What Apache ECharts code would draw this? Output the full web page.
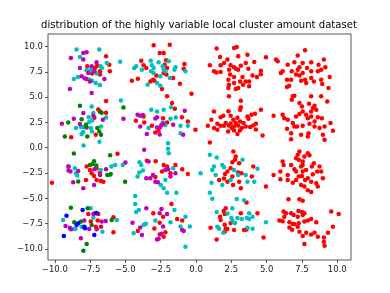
<!DOCTYPE html>
<html>
<head>
<meta charset="utf-8">
<script src="https://cdn.jsdelivr.net/npm/echarts@6/dist/echarts.min.js"></script>
<style>html,body{margin:0;padding:0;background:#fff}#c{width:390px;height:293px}</style>
</head>
<body>
<div id="c"></div>
<script>
const titleText = 'distribution of the highly variable local cluster amount dataset';
const xTicks = [-10, -7.5, -5, -2.5, 0, 2.5, 5, 7.5, 10];
const yTicks = [-10, -7.5, -5, -2.5, 0, 2.5, 5, 7.5, 10];

const redPts = [
  [-6.37,9.03],[-6.14,8.2],[-7.7,8.04],[-7.16,7.87],[-6.8,7.54],[-6.1,7.54],[-7.36,7.32],[-6.8,7.22],[-7.75,6.79],[-7.0,8.1],
  [-3.0,10.12],[-1.86,10.18],[-2.57,9.36],[-2.29,9.36],[-3.88,8.6],[-2.12,8.63],[-0.82,8.27],[-3.71,8.14],[-2.22,8.2],[-2.05,7.87],[-3.52,7.87],[-0.87,7.81],[-2.29,7.38],[-2.1,7.22],[-2.81,7.12],[-3.05,6.72],[-3.24,6.55],[-2.95,6.62],[-4.54,6.62],[-4.12,6.82],[-1.62,6.89],[-1.14,6.32],[-2.41,5.8],[-0.32,5.33],
  [1.46,9.79],[2.69,9.85],[2.88,9.95],[1.70,8.96],[3.64,9.19],[2.98,9.03],[2.22,8.7],[4.95,8.93],[0.98,8.14],[1.98,8.37],[1.74,8.14],[2.45,8.14],[2.69,7.94],[2.83,7.81],[4.12,8.47],[3.52,8.37],[3.17,8.1],[1.27,7.54],[1.44,7.44],[1.74,7.48],[2.34,7.71],[2.98,7.71],[3.7,7.81],[4.59,7.61],[2.41,7.22],[2.69,6.99],[4.0,7.12],[3.29,6.99],[2.29,6.72],[3.52,6.55],[3.76,6.55],[3.12,6.55],[4.31,6.99],[4.59,7.25],[2.69,6.39],[2.33,6.22],[2.29,5.9],[2.98,5.9],[2.81,5.8],[3.76,6.06],[3.33,6.22],[2.33,5.07],
  [7.72,9.62],[7.2,9.1],[5.66,8.7],[5.78,8.53],[9.05,8.7],[6.49,8.2],[6.96,8.44],[7.55,8.37],[8.15,8.44],[8.67,8.2],[7.32,7.94],[7.2,7.71],[7.86,7.87],[6.13,7.54],[6.0,7.38],[6.78,7.54],[9.15,7.94],[8.15,7.54],[8.62,7.54],[8.86,7.71],[7.08,7.22],[7.32,7.12],[7.55,7.38],[9.46,6.99],[6.44,6.72],[6.73,6.72],[7.44,6.62],[7.72,6.72],[8.15,6.89],[8.34,6.55],[8.86,6.72],[8.93,6.29],[6.44,6.0],[6.6,6.12],[7.8,6.39],[9.38,5.9],
  [-6.37,4.62],[-6.92,3.78],[-6.8,3.58],[-6.37,3.45],[-7.1,1.28],[-8.84,1.03],[-7.2,2.95],
  [-2.05,5.07],[-1.7,4.41],[-1.5,3.85],[-2.33,2.92],[-3.71,3.09],[-3.67,2.49],[-4.26,2.66],[-3.12,2.17],[-2.45,2.25],[-2.65,1.71],[-2.05,2.5],[-0.58,2.59],[-0.04,1.77],[-2.88,1.51],[-1.0,3.0],
  [3.17,4.64],[3.17,4.0],[4.59,3.75],[2.29,3.6],[3.12,3.75],[1.27,3.58],[1.74,3.02],[1.93,3.15],[1.08,2.76],[2.45,3.15],[4.17,3.35],[2.93,2.95],[3.64,3.09],[3.93,3.25],[2.64,2.76],[2.81,2.43],[3.71,2.86],[3.12,2.6],[3.36,2.43],[2.1,2.43],[2.33,2.2],[2.45,2.4],[2.69,2.1],[0.84,2.17],[1.51,2.36],[1.74,2.17],[1.98,2.17],[2.98,2.2],[3.52,2.1],[3.83,2.04],[4.05,2.2],[4.24,2.36],[1.27,1.94],[1.51,1.77],[2.27,1.61],[2.52,1.94],[3.24,1.94],[2.69,1.71],[3.1,1.71],[4.24,1.8],[0.98,0.51],[4.71,1.21],[2.93,1.35],
  [6.96,5.13],[6.85,5.07],[6.78,4.74],[8.15,5.07],[8.86,5.07],[5.49,3.15],[6.13,3.25],[7.32,4.41],[7.5,4.08],[8.0,4.35],[8.39,4.14],[8.51,3.75],[8.15,3.58],[8.27,3.91],[9.29,4.57],[7.55,3.58],[7.79,3.25],[6.25,2.92],[6.49,2.76],[7.08,3.09],[7.32,3.32],[6.85,2.43],[7.15,2.1],[7.91,2.92],[8.15,3.09],[8.62,3.02],[8.91,2.92],[8.39,2.59],[9.52,2.43],[9.69,1.67],[6.44,1.87],[6.96,2.1],[7.55,2.17],[8.03,2.36],[8.39,2.1],[8.74,1.94],[9.1,2.1],[6.73,1.44],[7.96,1.44],[7.91,1.11],[7.44,1.28],[8.98,1.28],[6.73,0.84],[9.1,0.78],
  [-5.56,-0.6],[-7.75,-1.86],[-7.51,-2.19],[-7.04,-2.02],[-6.8,-2.45],[-7.39,-2.52],[-7.22,-2.79],[-7.79,-3.18],[-7.04,-3.18],[-6.56,-3.35],[-6.75,-3.29],[-10.2,-3.45],
  [-3.48,-1.3],[-2.86,-1.33],[-2.29,-1.7],[-2.05,-1.86],[-2.41,-2.36],[-1.81,-2.52],[-1.46,-1.7],[-0.98,-2.12],[-0.58,-2.59],[-2.88,-2.9],
  [2.64,-0.37],[2.81,-0.87],[2.76,-1.2],[3.05,-1.53],[2.57,-1.43],[4.05,-1.86],[2.45,-2.02],[2.22,-2.36],[2.05,-2.59],[2.98,-2.45],[3.22,-2.52],[2.57,-2.85],[1.63,-3.18],[1.98,-3.05],[2.22,-3.35],[2.62,-3.68],[3.05,-3.35],[3.95,-2.85],[4.95,-3.84],[3.17,-4.0],
  [7.32,-0.37],[7.2,-0.7],[7.91,-0.54],[8.03,-0.74],[6.13,-1.37],[6.2,-1.7],[6.73,-1.7],[7.08,-1.03],[7.27,-1.2],[7.55,-1.37],[7.55,-1.7],[7.44,-1.86],[7.67,-0.87],[8.34,-1.53],[8.2,-1.86],[8.74,-1.86],[5.49,-2.69],[5.97,-2.36],[6.49,-2.69],[6.96,-2.12],[7.08,-2.36],[7.55,-2.36],[7.79,-2.19],[8.58,-2.36],[8.86,-2.36],[8.27,-2.62],[5.97,-3.12],[6.49,-3.18],[6.85,-3.45],[7.08,-3.18],[7.27,-2.85],[7.5,-2.79],[7.72,-3.18],[7.91,-3.02],[8.15,-3.35],[8.98,-3.02],[7.44,-3.68],[7.67,-3.84],[8.51,-3.51],[8.62,-3.84],[7.91,-4.2],[8.15,-4.37],
  [-7.63,-6.54],[-6.92,-6.54],[-5.85,-6.87],[-6.96,-7.2],[-7.1,-7.8],[-6.73,-7.8],[-5.85,-8.36],[-7.45,-7.3],
  [-1.74,-5.56],[-3.03,-6.48],[-2.33,-6.81],[-1.34,-7.04],[-2.57,-7.4],[-2.95,-7.97],[-0.98,-7.2],[-4.12,-8.23],[-2.17,-8.36],[-2.57,-8.56],[-2.29,-8.79],
  [3.57,-5.42],[2.1,-5.99],[1.96,-6.25],[2.03,-6.55],[3.17,-6.48],[4.35,-6.48],[1.7,-6.81],[1.74,-7.14],[2.45,-7.44],[2.03,-7.6],[1.03,-7.9],[2.1,-7.97],[2.22,-8.03],[2.69,-8.13],[3.4,-8.13],[3.57,-8.07],[2.03,-8.3],[1.46,-9.06],[4.78,-8.86],
  [6.54,-5.1],[7.32,-5.1],[7.55,-5.23],[6.2,-6.3],[6.37,-6.48],[6.73,-6.48],[6.91,-6.65],[7.25,-6.25],[7.5,-6.35],[7.67,-6.48],[7.2,-6.81],[7.55,-6.65],[6.25,-6.81],[5.9,-7.2],[6.13,-7.27],[6.61,-7.37],[6.85,-7.53],[6.96,-7.53],[7.27,-7.47],[7.67,-7.3],[7.91,-7.2],[8.15,-7.04],[8.51,-7.37],[9.57,-6.3],[10.1,-6.55],[7.2,-7.8],[7.32,-8.3],[6.61,-7.87],[6.8,-8.1],[7.8,-8.4],[8.15,-8.56],[8.39,-8.4],[7.55,-8.73],[8.62,-8.79],[9.69,-7.8],[9.34,-8.4],[9.05,-8.86],[9.05,-9.29],[7.67,-9.51],[9.1,-9.68]
];

const cyanPts = [
  [-8.46,9.69],[-6.85,9.69],[-8.22,8.96],[-6.32,8.37],[-6.75,8.04],[-6.66,7.87],[-7.75,7.65],[-7.55,7.54],[-7.44,7.71],[-7.04,7.32],[-8.36,6.99],[-8.65,6.79],[-7.51,6.72],[-7.36,6.62],[-7.1,6.4],[-6.8,6.2],[-5.37,8.5],
  [-3.21,8.6],[-1.93,8.53],[-4.24,8.04],[-4.38,7.87],[-3.12,8.14],[-3.0,7.87],[-2.65,8.44],[-2.36,8.04],[-2.29,7.71],[-2.17,7.54],[-3.83,7.71],[-1.46,7.94],[-1.53,7.71],[-0.75,7.54],[-3.19,7.54],[-3.0,7.38],[-2.53,7.05],[-1.86,6.89],[-3.43,6.22],[-2.76,6.39],[-2.53,6.12],
  [-5.32,4.67],[-7.39,4.08],[-7.27,3.42],[-7.6,3.0],[-6.37,2.99],[-7.36,2.69],[-7.56,2.53],[-7.98,2.05],[-8.5,1.94],[-8.15,2.04],[-7.45,1.94],[-6.73,2.1],[-7.36,1.61],[-7.98,1.54],[-8.1,1.35],[-6.84,0.58],[-7.96,0.22],
  [-1.76,4.0],[-2.29,3.75],[-2.76,3.58],[-3.17,3.75],[-1.43,2.99],[-1.81,2.86],[-2.36,2.49],[-2.17,2.25],[-3.36,1.94],[-1.1,2.17],[-0.58,2.17],[-1.1,1.44],
  [-5.19,-1.7],[-5.73,-1.7],[-9.0,-1.86],[-8.58,-2.02],[-6.75,-2.19],[-8.5,-2.52],[-8.41,-2.75],[-6.1,-2.69],[-6.0,-1.86],
  [-1.98,0.45],[-1.98,-0.1],[-1.93,-0.54],[-4.0,-1.43],[-3.88,-1.7],[-3.76,-2.26],[-4.02,-2.46],[-4.14,-2.85],[-1.62,-2.02],[-2.17,-3.18],[-2.29,-4.0],[-2.05,-4.44],[-1.39,-4.44],[-2.5,-3.68],[-4.31,-4.77],[0.32,-2.52],
  [0.98,-0.7],[1.46,-0.97],[3.29,-1.2],[4.35,-2.09],[1.86,-1.7],[1.98,-1.93],[1.27,-1.86],[1.15,-2.19],[2.69,-2.19],[2.98,-2.69],[3.52,-2.69],[1.39,-2.69],[2.45,-3.18],[1.1,-3.45],[1.86,-3.68],[3.64,-3.35],[4.12,-3.35],[0.98,-4.44],[1.15,-5.03],
  [-7.46,-5.98],[-7.27,-6.91],[-9.41,-7.14],[-5.61,-7.14],[-8.1,-7.8],[-8.7,-8.03],[-8.53,-8.03],[-6.63,-8.3],
  [-4.31,-5.56],[-4.24,-6.35],[-4.05,-6.15],[-1.53,-6.15],[-0.75,-6.81],[-2.88,-7.2],[-3.71,-7.6],[-3.55,-7.5],[-1.81,-7.37],[-0.44,-7.77],[-1.1,-7.77],[-4.42,-8.46],[-0.75,-9.78],
  [2.88,-5.06],[3.4,-5.2],[2.57,-5.99],[1.46,-6.35],[2.22,-6.5],[2.5,-6.95],[3.76,-6.48],[4.0,-6.81],[2.57,-7.2],[2.93,-6.95],[3.24,-7.04],[3.6,-6.95],[3.76,-7.04],[2.76,-7.44],[1.51,-7.8],[1.63,-8.0],[3.64,-7.9],[4.0,-8.0],[1.93,-8.4],[4.95,-7.37]
];

const magentaPts = [
  [-7.98,9.36],[-7.75,9.42],[-8.86,8.87],[-7.98,8.7],[-7.04,8.44],[-8.22,7.87],[-7.39,8.04],[-7.63,7.38],[-7.2,7.54],[-8.1,7.05],[-7.89,6.85],[-6.49,6.79],[-7.51,6.55],[-8.93,5.79],[-7.39,5.4],
  [-7.98,3.42],[-7.27,3.16],[-8.65,2.86],[-5.14,2.86],[-9.5,2.37],[-8.22,2.35],[-6.6,2.76],[-7.75,2.0],
  [-4.14,3.25],[-3.95,3.15],[-3.76,3.22],[-0.8,3.65],[-2.76,3.02],[-2.88,2.89],[-3.95,2.1],[-2.76,2.0],[-2.53,2.04],[-2.33,2.36],[-1.62,2.27],[-3.48,1.35],[-2.57,1.31],[-0.91,1.28],
  [-5.0,-1.47],[-9.05,-1.86],[-8.34,-2.29],[-6.37,-2.12],[-9.03,-2.26],[-8.89,-2.36],[-7.2,-2.12],[-6.8,-2.7],[-8.7,-3.41],[-7.22,-3.68],[-7.98,-4.0],
  [-3.67,-0.21],[-3.36,-1.37],[-3.52,-3.02],[-3.24,-3.02],[-2.88,-3.35],[-2.71,-3.41],[-3.05,-2.69],[-2.17,-2.19],[-1.98,-2.12],[-1.46,-2.52],[-1.81,-2.85],
  [-7.27,-6.54],[-7.15,-6.48],[-7.91,-7.2],[-6.68,-7.3],[-6.39,-7.24],[-9.24,-7.73],[-8.93,-7.9],[-8.86,-8.06],[-7.56,-8.03],[-7.03,-8.06],[-8.15,-8.95],
  [-3.52,-5.99],[-2.45,-6.05],[-2.57,-6.48],[-2.05,-6.55],[-4.5,-7.4],[-3.95,-7.87],[-2.33,-7.77],[-3.83,-8.63],[-2.45,-8.5],[-0.98,-8.13],[-0.87,-8.23],[-2.76,-9.06],[-2.65,-9.0]
];

const greenPts = [
  [-8.22,4.14],[-5.14,3.98],[-6.8,3.55],[-6.68,3.45],[-8.1,2.82],[-9.05,2.49],[-7.79,2.27],[-7.79,2.1],[-6.99,1.94],[-6.85,1.6],[-6.73,1.28],[-7.7,1.11],[-9.29,1.11],
  [-8.65,-0.57],[-6.08,-0.74],[-7.22,-1.33],[-7.51,-1.7],[-7.32,-1.6],[-7.06,-1.76],[-6.28,-2.69],[-6.04,-2.59],[-8.34,-3.34],[-5.02,-3.35],
  [-8.86,-5.92],[-7.67,-5.98],[-5.97,-7.14],[-8.62,-7.37],[-8.15,-7.3],[-7.39,-7.63],[-7.74,-9.51],[-7.98,-10.18]
];

const bluePts = [
  [-9.17,-6.71],[-8.03,-6.15],[-8.34,-7.47],[-8.46,-7.63],[-7.91,-7.8],[-7.86,-7.96],[-9.36,-8.72],[-7.2,-8.62],[-7.05,-6.45]
];

const fmt = v => (v < 0 ? '\u2212' : '') + Math.abs(v).toFixed(1);
const font = 'DejaVu Sans';
const chart = echarts.init(document.getElementById('c'), null, {renderer: 'canvas'});
const mk = (data, color) => ({
  type: 'scatter', data: data, symbol: 'circle', symbolSize: 4.5,
  itemStyle: {color: color, opacity: 1}, silent: true, animation: false
});
chart.setOption({
  animation: false,
  backgroundColor: '#fff',
  title: {
    text: titleText, left: 41, top: 20, padding: 0,
    textStyle: {fontFamily: font, fontSize: 10.1, fontWeight: 'normal', color: '#000'}
  },
  grid: {left: 48, right: 39, top: 34, bottom: 33, show: true, borderColor: '#555', borderWidth: 1, backgroundColor: 'transparent'},
  xAxis: {
    type: 'value', min: -10.48, max: 10.97, position: 'bottom',
    axisLine: {show: false, onZero: false}, splitLine: {show: false},
    axisTick: {show: true, customValues: xTicks, length: 3, lineStyle: {color: '#555'}},
    axisLabel: {customValues: xTicks, formatter: fmt, fontFamily: font, fontSize: 8.5, color: '#222', margin: 5}
  },
  yAxis: {
    type: 'value', min: -11.09, max: 11.23, position: 'left',
    axisLine: {show: false, onZero: false}, splitLine: {show: false},
    axisTick: {show: true, customValues: yTicks, length: 3, lineStyle: {color: '#555'}},
    axisLabel: {customValues: yTicks, formatter: fmt, fontFamily: font, fontSize: 8.5, color: '#222', margin: 5}
  },
  series: [
    mk(redPts, '#ff0000'),
    mk(cyanPts, '#00bfbf'),
    mk(magentaPts, '#bf00bf'),
    mk(greenPts, '#008000'),
    mk(bluePts, '#0000ff')
  ]
});
</script>
</body>
</html>
